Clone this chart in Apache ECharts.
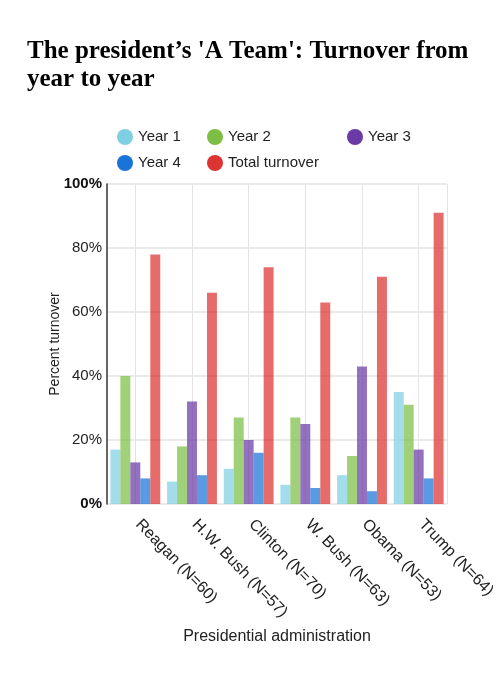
<!DOCTYPE html>
<html>
<head>
<meta charset="utf-8">
<script src="https://cdn.jsdelivr.net/npm/echarts@6/dist/echarts.min.js"></script>
<style>
html,body{margin:0;padding:0;background:#fff;}
#chart{width:500px;height:676px;}
</style>
</head>
<body>
<div id="chart"></div>
<script>
const categories = ['Reagan (N=60)', 'H.W. Bush (N=57)', 'Clinton (N=70)', 'W. Bush (N=63)', 'Obama (N=53)', 'Trump (N=64)'];
const seriesNames = ['Year 1', 'Year 2', 'Year 3', 'Year 4', 'Total turnover'];
const year1 = [17, 7, 11, 6, 9, 35];
const year2 = [40, 18, 27, 27, 15, 31];
const year3 = [13, 32, 20, 25, 43, 17];
const year4 = [8, 9, 16, 5, 4, 8];
const total = [78, 66, 74, 63, 71, 91];
const yTicks = [0, 20, 40, 60, 80, 100];

const colors = ['#7fcfe3', '#7cbf44', '#6a3aa6', '#1a73d8', '#dd3333'];
const values = [year1, year2, year3, year4, total];
const FONT = '"Liberation Sans", Arial, sans-serif';

const chart = echarts.init(document.getElementById('chart'), null, {renderer: 'canvas'});

const legendPos = [
  {left: 117, top: 129},
  {left: 207, top: 129},
  {left: 347, top: 129},
  {left: 117, top: 155},
  {left: 207, top: 155}
];

const halfCats = [];
for (let i = 0; i < categories.length * 2; i++) halfCats.push(String(i));

const option = {
  animation: false,
  color: colors,
  title: {
    text: "The president\u2019s 'A Team': Turnover from\nyear to year",
    left: 27,
    top: 38,
    padding: 0,
    textStyle: {
      fontFamily: '"Liberation Serif", "Times New Roman", serif',
      fontWeight: 'bold',
      fontSize: 25,
      lineHeight: 28,
      color: '#000'
    }
  },
  legend: seriesNames.map((n, i) => ({
    data: [{name: n, itemStyle: {opacity: 1}}],
    left: legendPos[i].left,
    top: legendPos[i].top,
    icon: 'circle',
    itemWidth: 16,
    itemHeight: 16,
    padding: 0,
    textStyle: {fontFamily: FONT, fontSize: 15, color: '#222'}
  })),
  grid: {left: 107, right: 53, top: 184, bottom: 172, containLabel: false},
  xAxis: [
    {
      type: 'category',
      data: categories,
      name: 'Presidential administration',
      nameLocation: 'middle',
      nameGap: 125,
      nameMoveOverlap: false,
      nameTextStyle: {fontFamily: FONT, fontSize: 16, color: '#222'},
      axisLine: {show: false},
      axisTick: {show: false},
      splitLine: {show: false},
      axisLabel: {
        rotate: -46,
        margin: 15,
        padding: [0, 0, 0, 4],
        interval: 0,
        fontFamily: FONT,
        fontSize: 16,
        color: '#222'
      }
    },
    {
      type: 'category',
      data: halfCats,
      position: 'bottom',
      axisLine: {show: false},
      axisTick: {show: false},
      axisLabel: {show: false},
      splitLine: {
        show: true,
        interval: (idx) => idx % 2 === 1,
        lineStyle: {color: '#e3e3e3', width: 1}
      }
    }
  ],
  yAxis: {
    type: 'value',
    min: yTicks[0],
    max: yTicks[yTicks.length - 1],
    interval: 20,
    name: 'Percent turnover',
    nameLocation: 'middle',
    nameGap: 45,
    nameMoveOverlap: false,
    nameTextStyle: {fontFamily: FONT, fontSize: 14, color: '#222'},
    axisLine: {show: true, lineStyle: {color: '#333', width: 1.5}},
    axisTick: {show: false},
    splitLine: {show: true, lineStyle: {color: '#e3e3e3', width: 1.5}},
    axisLabel: {
      margin: 5,
      fontFamily: FONT,
      fontSize: 15,
      color: '#222',
      formatter: (v) => (v === 0 || v === 100) ? '{b|' + v + '%}' : v + '%',
      rich: {b: {fontFamily: FONT, fontSize: 15, fontWeight: 'bold', color: '#111'}}
    }
  },
  series: seriesNames.map((n, i) => ({
    name: n,
    type: 'bar',
    xAxisIndex: 0,
    data: values[i],
    barGap: '0%',
    barCategoryGap: '12%',
    itemStyle: {color: colors[i], opacity: 0.72}
  }))
};
chart.setOption(option);
</script>
</body>
</html>
